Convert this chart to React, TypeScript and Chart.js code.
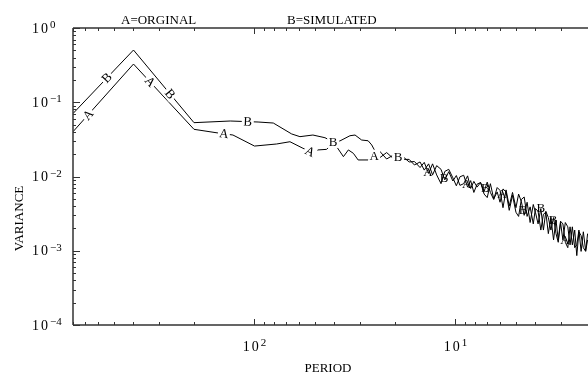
import React, { useEffect, useRef } from 'react';
import Chart from 'chart.js/auto';

// ---- data (period, variance) ----
const noisyPeriods = [25, 24, 22, 20, 19, 18, 17, 16, 15, 14.3, 13.6, 13, 12.4, 11.8, 11.3, 10.8, 10.3, 9.9, 9.5, 9.1,
  8.7, 8.4, 8.1, 7.8, 7.5, 7.2, 6.95, 6.7, 6.45, 6.2, 6.0, 5.8, 5.6, 5.4, 5.2, 5.0, 4.85, 4.7, 4.55, 4.4,
  4.25, 4.1, 4.0, 3.88, 3.76, 3.65, 3.55, 3.45, 3.35, 3.25, 3.16, 3.08, 3.0, 2.92, 2.84, 2.76, 2.69, 2.62, 2.55, 2.49,
  2.43, 2.37, 2.31, 2.25, 2.2];

const lowPeriodsA = [800, 400, 200, 148.5, 128, 100, 77.6, 66.6, 57.4, 53, 48.3, 43.8, 40.6, 39.0, 36.1, 34.1, 32.2, 30.5, 27.2, 26.1];
const lowVarianceA = [0.0401, 0.327, 0.0432, 0.0382, 0.0362, 0.0257, 0.0274, 0.0294, 0.0240, 0.0216, 0.0228, 0.0232, 0.0283, 0.0252, 0.0185, 0.0228, 0.0205, 0.0167, 0.0167, 0.0185];
const noisyVarianceA = [0.0194, 0.0224, 0.0172, 0.0200, 0.0169, 0.0179, 0.0157, 0.0159, 0.0132, 0.0155,
  0.0110, 0.0148, 0.0105, 0.0080, 0.0117, 0.0125, 0.0096, 0.0075, 0.0099, 0.0104,
  0.0072, 0.0088, 0.0061, 0.0079, 0.0083, 0.0058, 0.0052, 0.0080, 0.0050, 0.0062,
  0.0045, 0.0068, 0.0062, 0.0035, 0.0056, 0.0033, 0.0029, 0.0049, 0.0053, 0.0029,
  0.0039, 0.0023, 0.0037, 0.0034, 0.0019, 0.0031, 0.0033, 0.0017, 0.0028, 0.0014,
  0.0026, 0.0014, 0.0025, 0.0023, 0.0013, 0.0011, 0.0021, 0.0012, 0.0019, 0.00086,
  0.0018, 0.0016, 0.0011, 0.00098, 0.0014];

const lowPeriodsB = [800, 400, 200, 132, 96, 80.6, 65.3, 59.4, 51.2, 44.6, 40.6, 37.6, 33.5, 31.6, 29.3, 27.2, 26.1];
const lowVarianceB = [0.0705, 0.505, 0.0531, 0.0559, 0.0542, 0.0525, 0.0374, 0.0344, 0.0362, 0.0333, 0.0292, 0.0301, 0.0354, 0.0362, 0.0310, 0.0303, 0.0266];
const noisyVarianceB = [0.0214, 0.0176, 0.0210, 0.0167, 0.0187, 0.0170, 0.0170, 0.0143, 0.0157, 0.0122,
  0.0148, 0.0105, 0.0140, 0.0125, 0.0090, 0.0116, 0.0087, 0.0103, 0.0076, 0.0080,
  0.0102, 0.0069, 0.0086, 0.0072, 0.0083, 0.0063, 0.0084, 0.0061, 0.0049, 0.0071,
  0.0065, 0.0038, 0.0066, 0.0040, 0.0061, 0.0038, 0.0058, 0.0046, 0.0030, 0.0045,
  0.0024, 0.0042, 0.0033, 0.0023, 0.0037, 0.0019, 0.0034, 0.0028, 0.0019, 0.0028,
  0.0017, 0.0013, 0.0024, 0.0014, 0.0024, 0.0021, 0.0012, 0.0021, 0.0011, 0.0012,
  0.0019, 0.00098, 0.0018, 0.0010, 0.0017];

const periodsA = [...lowPeriodsA, ...noisyPeriods];
const varianceA = [...lowVarianceA, ...noisyVarianceA];
const periodsB = [...lowPeriodsB, ...noisyPeriods];
const varianceB = [...lowVarianceB, ...noisyVarianceB];

// letters written on the curves: [series index, period, follow slope, gap]
const curveLetters: [number, number, boolean, boolean][] = [
  [0, 673, true, true], [0, 331, true, true], [0, 142, true, true], [0, 53, true, true],
  [0, 25.4, false, true], [0, 13.7, false, false], [0, 8.8, false, false], [0, 5.87, false, false], [0, 2.85, false, false],
  [1, 542, true, true], [1, 263, true, true], [1, 108, true, true], [1, 40.6, false, true],
  [1, 19.3, false, true], [1, 11.4, false, false], [1, 7.1, false, false], [1, 4.61, false, false], [1, 3.76, false, false], [1, 3.27, false, false],
];
const seriesNames = ['A', 'B'];
const legendTexts = ['A=ORGINAL', 'B=SIMULATED'];
const xTitle = 'PERIOD';
const yTitle = 'VARIANCE';
const xMin = 2.19, xMax = 800, yMin = 1e-4, yMax = 1;

const SERIF = '"Liberation Serif", "Times New Roman", serif';

const letterPlugin = {
  id: 'curveLetters',
  afterDatasetsDraw(chart: any) {
    const ctx = chart.ctx;
    const xs = chart.scales.x;
    ctx.save();
    ctx.font = `13px ${SERIF}`;
    ctx.textAlign = 'center';
    ctx.textBaseline = 'middle';
    for (const [si, period, follow, gap] of curveLetters) {
      const pts = chart.getDatasetMeta(si).data;
      const px = xs.getPixelForValue(period);
      let i = 0;
      while (i < pts.length - 2 && pts[i + 1].x < px) i++;
      const p1 = pts[i], p2 = pts[i + 1];
      const t = (px - p1.x) / (p2.x - p1.x || 1);
      const py = p1.y + t * (p2.y - p1.y);
      const ang = follow ? Math.atan2(p2.y - p1.y, p2.x - p1.x) : 0;
      ctx.save();
      ctx.translate(px, py);
      ctx.rotate(ang);
      if (gap) {
        ctx.fillStyle = '#fff';
        ctx.fillRect(-6, -6, 12, 12);
      }
      ctx.fillStyle = '#000';
      ctx.fillText(seriesNames[si], 0, 0.5);
      ctx.restore();
    }
    ctx.restore();
  },
};

const axesPlugin = {
  id: 'idlAxes',
  afterDraw(chart: any) {
    const ctx = chart.ctx;
    const { left, right, top, bottom } = chart.chartArea;
    const xs = chart.scales.x, ys = chart.scales.y;
    ctx.save();
    ctx.strokeStyle = '#333';
    ctx.lineWidth = 1.5;
    ctx.beginPath();
    ctx.moveTo(left, top); ctx.lineTo(right, top);
    ctx.moveTo(left, top); ctx.lineTo(left, bottom);
    ctx.moveTo(left, bottom); ctx.lineTo(right, bottom);
    ctx.stroke();

    ctx.lineWidth = 1;
    ctx.beginPath();
    for (let e = 0; e <= 2; e++) {
      for (let k = 1; k <= 9; k++) {
        const v = k * Math.pow(10, e);
        if (v < xMin || v > xMax) continue;
        const X = Math.round(xs.getPixelForValue(v)) + 0.5;
        const len = k === 1 ? 6 : 3;
        ctx.moveTo(X, bottom); ctx.lineTo(X, bottom - len);
        ctx.moveTo(X, top); ctx.lineTo(X, top + len);
      }
    }
    for (let e = -4; e <= 0; e++) {
      for (let k = 1; k <= 9; k++) {
        const v = k * Math.pow(10, e);
        if (v < yMin || v > yMax) continue;
        const Y = Math.round(ys.getPixelForValue(v)) + 0.5;
        const len = k === 1 ? 7 : 3;
        ctx.moveTo(left, Y); ctx.lineTo(left + len, Y);
      }
    }
    ctx.stroke();

    ctx.fillStyle = '#000';
    ctx.textBaseline = 'alphabetic';
    // y tick labels
    for (let e = -4; e <= 0; e++) {
      const Y = ys.getPixelForValue(Math.pow(10, e));
      ctx.textAlign = 'left';
      ctx.font = `14px ${SERIF}`;
      (ctx as any).letterSpacing = '2px';
      ctx.fillText('10', 32, Y + 4.5);
      const w = ctx.measureText('10').width;
      (ctx as any).letterSpacing = '0px';
      ctx.font = `11px ${SERIF}`;
      ctx.fillText(e === 0 ? '0' : '\u2212' + String(-e), 32 + w, Y);
    }
    // x tick labels
    for (let e = 1; e <= 2; e++) {
      const X = xs.getPixelForValue(Math.pow(10, e));
      ctx.font = `14px ${SERIF}`;
      (ctx as any).letterSpacing = '2px';
      const w1 = ctx.measureText('10').width;
      ctx.font = `11px ${SERIF}`;
      (ctx as any).letterSpacing = '0px';
      const w2 = ctx.measureText(String(e)).width;
      const x0 = X - (w1 + w2) / 2;
      ctx.textAlign = 'left';
      ctx.font = `14px ${SERIF}`;
      (ctx as any).letterSpacing = '2px';
      ctx.fillText('10', x0, 351);
      (ctx as any).letterSpacing = '0px';
      ctx.font = `11px ${SERIF}`;
      ctx.fillText(String(e), x0 + w1, 346);
    }
    // titles
    ctx.font = `13px ${SERIF}`;
    ctx.textAlign = 'left';
    ctx.fillText(legendTexts[0], 121, 24);
    ctx.fillText(legendTexts[1], 287, 24);
    ctx.textAlign = 'center';
    ctx.fillText(xTitle, 328, 371.5);
    ctx.save();
    ctx.translate(23, 218.5);
    ctx.rotate(-Math.PI / 2);
    ctx.fillText(yTitle, 0, 0);
    ctx.restore();
    ctx.restore();
  },
};

export default function App() {
  const ref = useRef<HTMLCanvasElement>(null);
  useEffect(() => {
    const mk = (ps: number[], vs: number[], name: string) => ({
      label: name,
      data: ps.map((p, i) => ({ x: p, y: vs[i] })),
      borderColor: '#000',
      borderWidth: 1,
      pointRadius: 0,
      tension: 0,
      fill: false,
    });
    const chart = new Chart(ref.current!, {
      type: 'line',
      data: { datasets: [mk(periodsA, varianceA, 'A'), mk(periodsB, varianceB, 'B')] },
      options: {
        responsive: false,
        animation: false,
        devicePixelRatio: 1,
        layout: { padding: { left: 73, top: 28, right: 0, bottom: 49 } },
        plugins: { legend: { display: false }, tooltip: { enabled: false } },
        scales: {
          x: { type: 'logarithmic', reverse: true, min: xMin, max: xMax, display: false },
          y: { type: 'logarithmic', min: yMin, max: yMax, display: false },
        },
      },
      plugins: [letterPlugin, axesPlugin],
    } as any);
    return () => chart.destroy();
  }, []);
  return (
    <div style={{ position: 'fixed', left: 0, top: 0, width: 588, height: 374, background: '#fff', overflow: 'hidden' }}>
      <canvas ref={ref} width={588} height={374} style={{ display: 'block' }} />
    </div>
  );
}
